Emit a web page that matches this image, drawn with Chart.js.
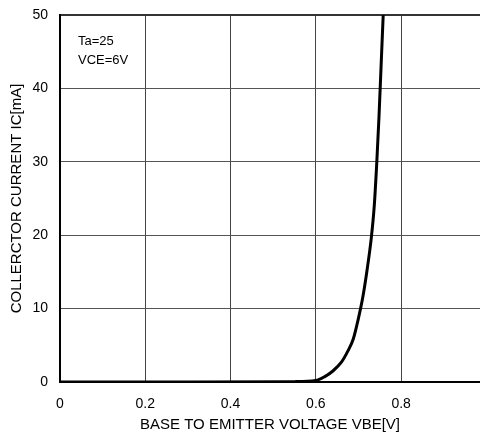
<!DOCTYPE html>
<html>
<head>
<meta charset="utf-8">
<script src="https://cdn.jsdelivr.net/npm/chart.js@4/dist/chart.umd.min.js"></script>
<style>
html,body{margin:0;padding:0;background:#fff;}
#wrap{width:480px;height:435px;position:relative;}
</style>
</head>
<body>
<div id="wrap"><canvas id="c" width="480" height="435"></canvas></div>
<script>
// Data
const vbe = [0.00, 0.30, 0.55, 0.600, 0.620, 0.640, 0.660, 0.675, 0.688, 0.700, 0.710, 0.720, 0.730, 0.737, 0.743, 0.748, 0.753, 0.758];
const ic  = [0.00, 0.00, 0.05, 0.20, 0.70, 1.50, 2.70, 4.20, 5.90, 8.70, 11.5, 15.2, 19.6, 24.0, 30.0, 36.0, 43.0, 50.0];
const xTickValues = [0, 0.2, 0.4, 0.6, 0.8];
const yTickValues = [0, 10, 20, 30, 40, 50];
const xTitle = 'BASE TO EMITTER VOLTAGE VBE[V]';
const yTitle = 'COLLERCTOR CURRENT IC[mA]';
const noteLines = ['Ta=25', 'VCE=6V'];

const FONT = "'Liberation Sans', Arial, sans-serif";

const points = vbe.map((v, i) => ({x: v, y: ic[i]}));

const notePlugin = {
  id: 'note',
  afterDraw(chart) {
    const ctx = chart.ctx;
    ctx.save();
    ctx.fillStyle = '#000';
    ctx.font = '13px ' + FONT;
    ctx.textBaseline = 'middle';
    ctx.textAlign = 'left';
    noteLines.forEach((t, i) => ctx.fillText(t, chart.chartArea.left + 18, chart.chartArea.top + 26 + i * 19));
    ctx.restore();
  }
};

new Chart(document.getElementById('c'), {
  type: 'line',
  data: {
    datasets: [{
      data: points,
      borderColor: '#000',
      borderWidth: 3,
      pointRadius: 0,
      fill: false,
      cubicInterpolationMode: 'monotone'
    }]
  },
  options: {
    responsive: false,
    animation: false,
    devicePixelRatio: 1,
    layout: {padding: {left: 0, right: 0, top: 15, bottom: 0}},
    plugins: {legend: {display: false}, tooltip: {enabled: false}},
    scales: {
      x: {
        type: 'linear',
        min: 0,
        max: 0.985,
        afterBuildTicks(scale) { scale.ticks = xTickValues.map(v => ({value: v})); },
        afterFit(scale) { scale.height = 53; scale.paddingLeft = 0; scale.paddingRight = 0; },
        ticks: {
          color: '#000',
          font: {family: FONT, size: 14},
          padding: 14,
          maxRotation: 0,
          callback: v => String(+v.toFixed(1))
        },
        grid: {color: '#444', lineWidth: 1, drawTicks: false},
        border: {color: '#000', width: 2},
        title: {display: true, text: xTitle, color: '#000', font: {family: FONT, size: 15}, padding: {top: 2, bottom: 1}}
      },
      y: {
        type: 'linear',
        min: 0,
        max: 50,
        afterBuildTicks(scale) { scale.ticks = yTickValues.map(v => ({value: v})); },
        afterFit(scale) { scale.width = 60; scale.paddingTop = 0; scale.paddingBottom = 0; },
        ticks: {
          color: '#000',
          font: {family: FONT, size: 14},
          padding: 12
        },
        grid: {
          color: ctx => ctx.tick && ctx.tick.value === 50 ? '#333' : '#555',
          lineWidth: ctx => ctx.tick && ctx.tick.value === 50 ? 2 : 1,
          drawTicks: false
        },
        border: {color: '#000', width: 2},
        title: {display: true, text: yTitle, color: '#000', font: {family: FONT, size: 15}, padding: {top: 8, bottom: 0}}
      }
    }
  },
  plugins: [notePlugin]
});
</script>
</body>
</html>
